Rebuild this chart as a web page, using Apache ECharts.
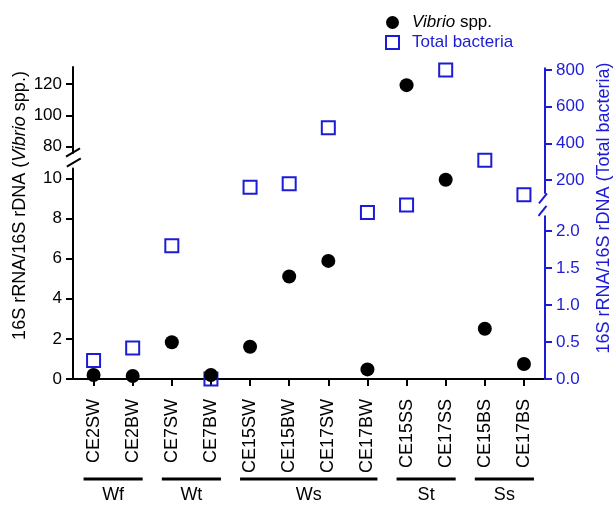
<!DOCTYPE html>
<html>
<head>
<meta charset="utf-8">
<script src="https://cdn.jsdelivr.net/npm/echarts@6/dist/echarts.min.js"></script>
<style>
  html, body { margin: 0; padding: 0; background: #fff; }
  #chart { width: 613px; height: 506px; }
</style>
</head>
<body>
<div id="chart"></div>
<script>
// data
var categories = ['CE2SW', 'CE2BW', 'CE7SW', 'CE7BW', 'CE15SW', 'CE15BW',
  'CE17SW', 'CE17BW', 'CE15SS', 'CE17SS', 'CE15BS', 'CE17BS'];
var vibrio = [0.2, 0.15, 1.83, 0.2, 1.61, 5.11, 5.89, 0.48, 119.4, 9.94, 2.51, 0.75];
var totalBacteria = [0.25, 0.42, 1.8, 0, 161, 181, 486, 2.25, 2.35, 801, 308, 121];
var groups = [
  { name: 'Wf', from: 0, to: 1 },
  { name: 'Wt', from: 2, to: 3 },
  { name: 'Ws', from: 4, to: 7 },
  { name: 'St', from: 8, to: 9 },
  { name: 'Ss', from: 10, to: 11 }
];
var leftLowTicks = [0, 2, 4, 6, 8, 10];
var leftHighTicks = [80, 100, 120];
var rightLowTicks = [0, 0.5, 1, 1.5, 2];
var rightHighTicks = [200, 400, 600, 800];

var BLUE = '#1c1cd6';
var FONT = '"Liberation Sans", Arial, Helvetica, sans-serif';
var GL = 74, GR = 69.5;   // grid left / right

var myChart = echarts.init(document.getElementById('chart'));

function yAx(grid, side, min, max, ticks, color, fmt) {
  return {
    type: 'value', gridIndex: grid, position: side, min: min, max: max,
    offset: side === 'left' ? 1 : 1.5,
    axisLine: { show: true, lineStyle: { color: color, width: 2 } },
    axisTick: { show: true, length: 7, lineStyle: { color: color, width: 2 }, customValues: ticks },
    axisLabel: { color: color, fontSize: 17, fontFamily: FONT, margin: 11, customValues: ticks, formatter: fmt },
    splitLine: { show: false }
  };
}

function xAx(grid, show) {
  return {
    type: 'category', gridIndex: grid, data: categories, show: show,
    axisLine: { show: true, lineStyle: { color: '#000', width: 2 } },
    axisTick: { show: true, alignWithLabel: true, length: 7, lineStyle: { color: '#000', width: 2 } },
    axisLabel: { rotate: 90, fontSize: 18, fontFamily: FONT, color: '#000', margin: 20 }
  };
}

function scat(name, grid, data, isVibrio) {
  return {
    name: name, type: 'scatter', xAxisIndex: grid, yAxisIndex: grid, data: data,
    clip: false, z: isVibrio ? 3 : 2,
    symbol: isVibrio ? 'circle' : 'rect', symbolSize: isVibrio ? 14 : 13,
    itemStyle: isVibrio
      ? { color: '#000', opacity: 1 }
      : { color: 'transparent', borderColor: BLUE, borderWidth: 2, opacity: 1 }
  };
}

var option = {
  animation: false,
  grid: [
    { left: GL, right: GR, top: 67, height: 86 },      // left upper
    { left: GL, right: GR, top: 168.5, height: 210.5 }, // left lower
    { left: GL, right: GR, top: 68.3, height: 124.7 },  // right upper
    { left: GL, right: GR, top: 216.2, height: 162.8 }  // right lower
  ],
  xAxis: [xAx(0, false), xAx(1, true), xAx(2, false), xAx(3, false)],
  yAxis: [
    yAx(0, 'left', 76, 131, leftHighTicks, '#000'),
    yAx(1, 'left', 0, 10.5, leftLowTicks, '#000'),
    yAx(2, 'right', 130, 810, rightHighTicks, BLUE),
    yAx(3, 'right', 0, 2.2, rightLowTicks, BLUE, function (v) { return v.toFixed(1); })
  ],
  legend: {
    orient: 'vertical', left: 380, top: 9, itemWidth: 13, itemHeight: 13, itemGap: 3,
    selectedMode: false,
    textStyle: {
      fontSize: 17, fontFamily: FONT, padding: [0, 0, 0, 8],
      rich: { i: { fontStyle: 'italic', fontSize: 17, fontFamily: FONT, color: '#000' } }
    },
    formatter: function (name) { return name === 'Vibrio spp.' ? '{i|Vibrio} spp.' : name; },
    data: [
      { name: 'Vibrio spp.', icon: 'circle', itemStyle: { color: '#000', opacity: 1 }, textStyle: { color: '#000' } },
      { name: 'Total bacteria', icon: 'rect',
        itemStyle: { color: 'transparent', borderColor: BLUE, borderWidth: 2, opacity: 1 },
        textStyle: { color: BLUE } }
    ]
  },
  series: [
    scat('Total bacteria', 2, totalBacteria.map(function (v) { return v >= 20 ? v : '-'; }), false),
    scat('Total bacteria', 3, totalBacteria.map(function (v) { return v < 20 ? v : '-'; }), false),
    scat('Vibrio spp.', 0, vibrio.map(function (v) { return v >= 20 ? v : '-'; }), true),
    scat('Vibrio spp.', 1, vibrio.map(function (v) { return v < 20 ? v : '-'; }), true)
  ]
};
myChart.setOption(option);

// decorations: axis breaks, axis titles, group bars
var g = [];
function slash(cx, cy, dx, dy, color) {
  g.push({ type: 'line', shape: { x1: cx - dx, y1: cy + dy, x2: cx + dx, y2: cy - dy },
    style: { stroke: color, lineWidth: 2 } });
}
var lx = GL - 1, rx = 613 - GR + 1.5;
slash(lx, 152.5, 7, 4.2, '#000');
slash(lx + 0.8, 162.5, 7, 4.2, '#000');
slash(rx - 2, 198.3, 4, 5, BLUE);
slash(rx - 2.5, 210.8, 4, 5, BLUE);

g.push({ type: 'text', x: 20, y: 205.5, rotation: Math.PI / 2,
  style: { text: '16S rRNA/16S rDNA ({i|Vibrio} spp.)', fontSize: 18, fontFamily: FONT, fill: '#000',
    align: 'center', verticalAlign: 'middle',
    rich: { i: { fontStyle: 'italic', fontSize: 18, fontFamily: FONT, fill: '#000' } } } });
g.push({ type: 'text', x: 604, y: 208, rotation: Math.PI / 2,
  style: { text: '16S rRNA/16S rDNA (Total bacteria)', fontSize: 18, fontFamily: FONT, fill: BLUE,
    align: 'center', verticalAlign: 'middle' } });

groups.forEach(function (gr) {
  var a = myChart.convertToPixel({ xAxisIndex: 1 }, gr.from);
  var b = myChart.convertToPixel({ xAxisIndex: 1 }, gr.to);
  g.push({ type: 'line', shape: { x1: a - 10, y1: 479, x2: b + 10, y2: 479 },
    style: { stroke: '#000', lineWidth: 3 } });
  g.push({ type: 'text', x: (a + b) / 2, y: 495,
    style: { text: gr.name, fontSize: 18, fontFamily: FONT, fill: '#000', align: 'center', verticalAlign: 'middle' } });
});
myChart.setOption({ graphic: g });
</script>
</body>
</html>
